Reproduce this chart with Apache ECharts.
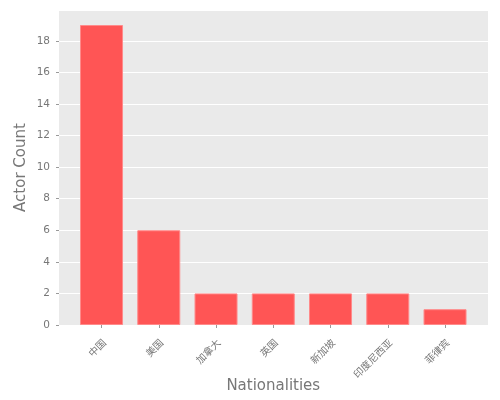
<!DOCTYPE html>
<html>
<head>
<meta charset="utf-8">
<script src="https://cdn.jsdelivr.net/npm/echarts@6/dist/echarts.min.js"></script>
<style>
  html, body { margin: 0; padding: 0; background: #fff; }
  #main { width: 500px; height: 400px; }
</style>
</head>
<body>
<div id="main"></div>
<script>
// nationalities (rendered as missing glyphs in the source picture)
var nationalities = ['中国', '美国', '加拿大', '英国', '新加坡', '印度尼西亚', '菲律宾'];
var actorCounts = [19, 6, 2, 2, 2, 2, 1];
var yTicks = [0, 2, 4, 6, 8, 10, 12, 14, 16, 18];

var yMax = 19.95;
var txt = '#777';
var font = 'DejaVu Sans, "Noto Sans CJK SC", sans-serif';

var chart = echarts.init(document.getElementById('main'));
chart.setOption({
  animation: false,
  textStyle: { fontFamily: font },
  grid: [
    // full panel: grey background + horizontal grid lines
    { left: 59, top: 10, width: 429, height: 315, show: true, backgroundColor: '#EAEAEA',
      borderWidth: 0, containLabel: false, outerBoundsMode: 'none' },
    // bar area (matplotlib-like margins on the x axis)
    { left: 72.9, top: 10, width: 400.75, height: 315, containLabel: false, outerBoundsMode: 'none' }
  ],
  xAxis: [
    { gridIndex: 0, type: 'value', show: false, min: 0, max: 1 },
    {
      gridIndex: 1, type: 'category', data: nationalities,
      name: 'Nationalities', nameLocation: 'middle', nameGap: 50, nameMoveOverlap: false,
      nameTextStyle: { color: txt, fontSize: 15, fontFamily: font },
      offset: 4,
      axisLine: { show: false },
      axisTick: { show: true, alignWithLabel: true, length: 3, lineStyle: { color: '#999' } },
      axisLabel: { rotate: 45, color: txt, fontSize: 10, margin: 9, interval: 0, verticalAlign: 'top' }
    }
  ],
  yAxis: [
    {
      gridIndex: 0, type: 'value', min: 0, max: yMax, interval: 2,
      name: 'Actor Count', nameLocation: 'middle', nameGap: 26, nameMoveOverlap: false,
      nameTextStyle: { color: txt, fontSize: 15, fontFamily: font },
      offset: 4,
      axisLine: { show: false },
      axisTick: { show: true, length: 3, lineStyle: { color: '#999' } },
      axisLabel: {
        color: txt, fontSize: 10.5, margin: 5, showMaxLabel: false,
        formatter: function (v) { return yTicks.indexOf(v) >= 0 ? String(v) : ''; }
      },
      splitLine: { show: true, lineStyle: { color: '#fff', width: 1 } }
    },
    { gridIndex: 1, type: 'value', min: 0, max: yMax, show: false, splitLine: { show: false } }
  ],
  series: [{
    type: 'bar',
    xAxisIndex: 1, yAxisIndex: 1,
    data: actorCounts,
    barWidth: 43,
    itemStyle: { color: '#FF5555', borderColor: '#FF8A8A', borderWidth: 1 }
  }]
});
</script>
</body>
</html>
